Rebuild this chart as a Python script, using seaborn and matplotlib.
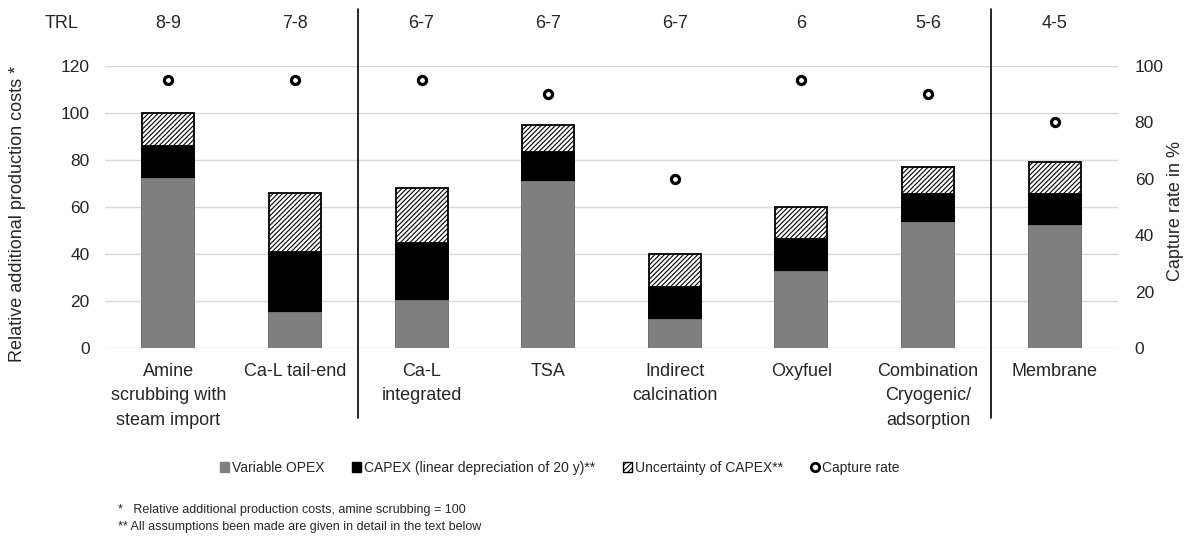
import numpy as np
import pandas as pd
import matplotlib
matplotlib.use("Agg")
import matplotlib.pyplot as plt
import matplotlib.transforms as mtransforms
from matplotlib.patches import Patch
from matplotlib.lines import Line2D
import seaborn as sns

# ---------------- data ----------------
categories = ["Amine scrubbing", "Ca-L tail-end", "Ca-L integrated", "TSA",
              "Indirect calcination", "Oxyfuel", "Combination", "Membrane"]
tick_labels = ["Amine\nscrubbing with\nsteam import", "Ca-L tail-end",
               "Ca-L\nintegrated", "TSA", "Indirect\ncalcination", "Oxyfuel",
               "Combination\nCryogenic/\nadsorption", "Membrane"]
trl = ["8-9", "7-8", "6-7", "6-7", "6-7", "6", "5-6", "4-5"]
opex = [72, 15, 20, 70.5, 12, 32.5, 53, 52]
capex = [14, 26, 24.5, 13, 14, 14, 12.5, 13.5]
capex_uncertainty = [14, 25, 23.5, 11.5, 14, 13.5, 11.5, 13.5]
capture_rate = [95, 95, 95, 90, 60, 95, 90, 80]
separators_after = [1, 6]   # vertical separators after these category indices

df = pd.DataFrame({
    "method": categories,
    "opex": opex,
    "opex_capex": np.array(opex) + np.array(capex),
    "total": np.array(opex) + np.array(capex) + np.array(capex_uncertainty),
    "capture": capture_rate,
})

# ---------------- style ----------------
sns.set_style("white")
plt.rcParams["font.family"] = ["Liberation Sans", "DejaVu Sans"]
plt.rcParams["hatch.linewidth"] = 0.8
FS = 13
TICK_FS = 12.5
TXT = "#262626"

W, H = 1188, 543
fig = plt.figure(figsize=(W / 100, H / 100), dpi=100)
ax = fig.add_axes([105 / W, 1 - 348 / H, 1013 / W, 282 / H])

GREY = "#7f7f7f"
bw = 0.41
sns.barplot(data=df, x="method", y="total", order=categories, ax=ax,
            color="white", saturation=1, width=bw, edgecolor="black",
            linewidth=1.3, hatch="///////", errorbar=None, zorder=2)
sns.barplot(data=df, x="method", y="opex_capex", order=categories, ax=ax,
            color="black", saturation=1, width=bw, edgecolor="black",
            linewidth=1.3, errorbar=None, zorder=3)
sns.barplot(data=df, x="method", y="opex", order=categories, ax=ax,
            color=GREY, saturation=1, width=bw, edgecolor=GREY,
            linewidth=1.3, errorbar=None, zorder=4)

ax.set_ylim(0, 120)
ax.set_xlim(-0.5, len(categories) - 0.5)
ax.set_yticks(np.arange(0, 121, 20))
ax.yaxis.grid(True, color="#d9d9d9", linewidth=1.0, zorder=0)
ax.set_axisbelow(True)
for s in ax.spines.values():
    s.set_visible(False)
ax.set_xticks(range(len(categories)))
ax.set_xticklabels(tick_labels, fontsize=FS, color=TXT, linespacing=1.55)
ax.tick_params(axis="x", length=0, pad=11)
ax.tick_params(axis="y", length=0, pad=11, labelsize=TICK_FS, labelcolor=TXT)
ax.set_xlabel("")
ax.set_ylabel("")

# capture rate on secondary axis
ax2 = ax.twinx()
sns.scatterplot(x=np.arange(len(categories)), y=df["capture"], ax=ax2,
                s=34, facecolor="white", edgecolor="black", linewidth=2.3,
                zorder=5, legend=False)
ax2.set_ylim(0, 100)
ax2.set_yticks(np.arange(0, 101, 20))
ax2.set_xlim(-0.5, len(categories) - 0.5)
ax2.set_ylabel("")
for s in ax2.spines.values():
    s.set_visible(False)
ax2.tick_params(axis="y", length=0, pad=12, labelsize=TICK_FS, labelcolor=TXT)

# separators
trans = mtransforms.blended_transform_factory(ax.transData, ax.transAxes)
for i in separators_after:
    ax.plot([i + 0.5, i + 0.5], [(348 - 9) / 282, (348 - 418) / 282],
            color="black", linewidth=1.2, transform=trans, clip_on=False, zorder=6)

# TRL row
ty = 1 - 23 / H
fig.text(62 / W, ty, "TRL", ha="center", va="center", fontsize=FS, color=TXT)
ttrans = mtransforms.blended_transform_factory(ax.transData, fig.transFigure)
for i, t in enumerate(trl):
    fig.text(i, ty, t, ha="center", va="center", fontsize=FS, color=TXT,
             transform=ttrans)

# axis labels
fig.text(18 / W, 1 - 214 / H, "Relative additional production costs *",
         rotation=90, ha="center", va="center", fontsize=FS, color=TXT)
fig.text(1175 / W, 1 - 211 / H, "Capture rate in %",
         rotation=90, ha="center", va="center", fontsize=FS, color=TXT)

# legend
handles = [
    Patch(facecolor=GREY, edgecolor=GREY),
    Patch(facecolor="black", edgecolor="black"),
    Patch(facecolor="white", edgecolor="black", hatch="//////", linewidth=1.0),
    Line2D([], [], linestyle="none", marker="o", markersize=6,
           markerfacecolor="white", markeredgecolor="black", markeredgewidth=2),
]
labels = ["Variable OPEX", "CAPEX (linear depreciation of 20 y)**",
          "Uncertainty of CAPEX**", "Capture rate"]
fig.legend(handles, labels, loc="center", bbox_to_anchor=(560 / W, 1 - 468 / H),
           ncol=4, frameon=False, fontsize=10, handlelength=0.65,
           handleheight=0.65, handletextpad=0.2, columnspacing=2.0,
           labelcolor=TXT)

# footnotes
fig.text(118 / W, 1 - 510 / H, "*   Relative additional production costs, amine scrubbing = 100",
         ha="left", va="center", fontsize=9, color=TXT)
fig.text(118 / W, 1 - 527 / H, "** All assumptions been made are given in detail in the text below",
         ha="left", va="center", fontsize=9, color=TXT)

fig.savefig("out.png", dpi=100)
